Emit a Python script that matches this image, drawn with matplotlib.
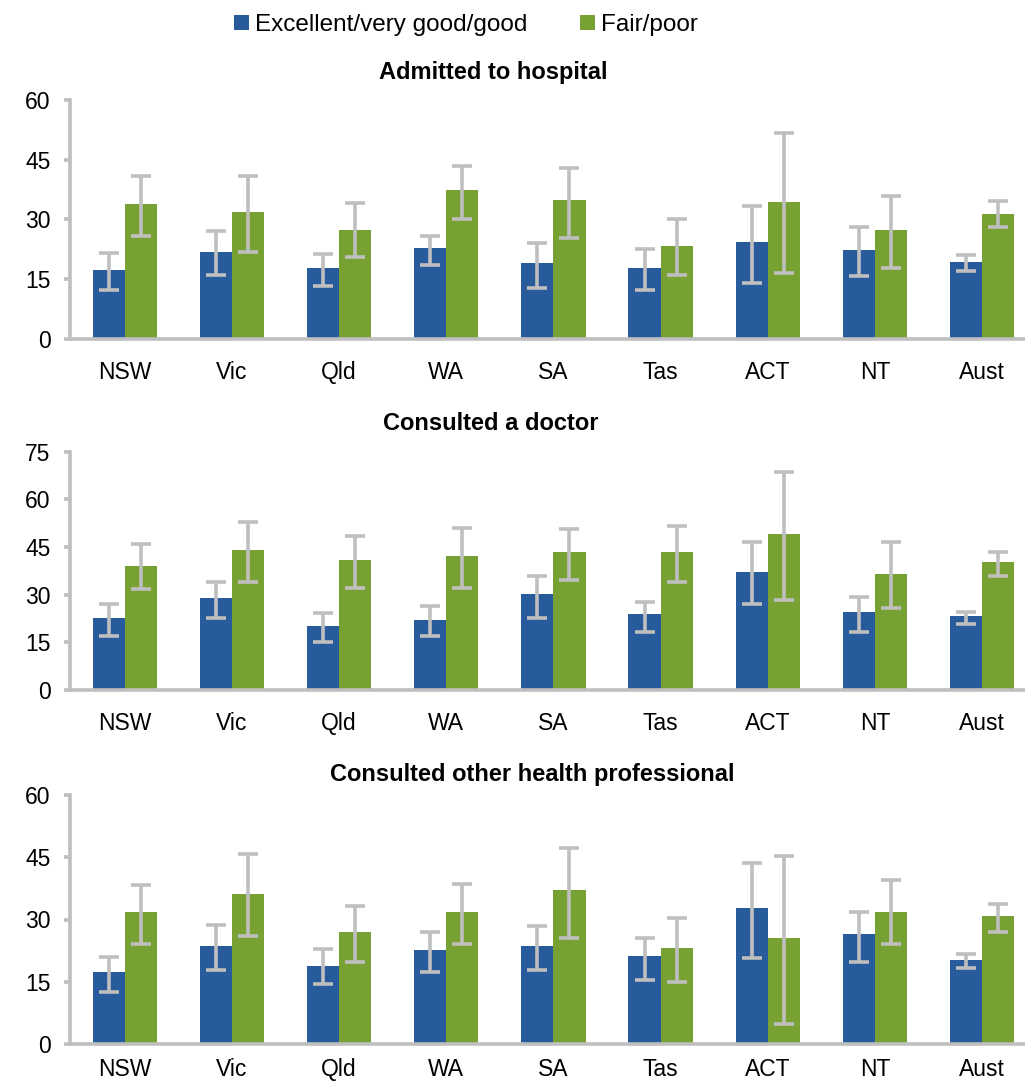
#!/usr/bin/env python3
import numpy as np
import matplotlib
matplotlib.use("Agg")
import matplotlib.pyplot as plt

states = ["NSW", "Vic", "Qld", "WA", "SA", "Tas", "ACT", "NT", "Aust"]
series_names = ["Excellent/very good/good", "Fair/poor"]

# Admitted to hospital
hosp_good = [17.2, 21.7, 17.8, 22.8, 18.9, 17.8, 24.3, 22.2, 19.2]
hosp_good_lo = [12.3, 15.9, 13.3, 18.4, 12.8, 12.3, 13.9, 15.8, 16.9]
hosp_good_hi = [21.4, 27.0, 21.2, 25.9, 23.9, 22.4, 33.4, 28.1, 21.0]
hosp_poor = [33.8, 31.8, 27.3, 37.4, 34.9, 23.3, 34.3, 27.2, 31.2]
hosp_poor_lo = [25.9, 21.7, 20.4, 30.0, 25.4, 15.9, 16.4, 17.8, 28.0]
hosp_poor_hi = [41.0, 41.0, 34.0, 43.5, 43.0, 30.0, 51.6, 35.9, 34.5]

# Consulted a doctor
doc_good = [22.6, 28.8, 20.0, 22.0, 30.2, 23.9, 37.1, 24.5, 23.3]
doc_good_lo = [17.1, 22.8, 15.2, 17.1, 22.8, 18.4, 27.2, 18.4, 20.9]
doc_good_hi = [27.2, 34.1, 24.1, 26.5, 36.0, 27.7, 46.7, 29.2, 24.7]
doc_poor = [38.9, 44.0, 40.9, 42.1, 43.3, 43.3, 49.0, 36.4, 40.2]
doc_poor_lo = [31.7, 34.0, 32.2, 32.2, 34.7, 34.1, 28.3, 25.9, 36.0]
doc_poor_hi = [46.1, 53.0, 48.6, 51.1, 50.6, 51.7, 68.7, 46.7, 43.5]

# Consulted other health professional
other_good = [17.3, 23.6, 18.7, 22.6, 23.6, 21.2, 32.7, 26.5, 20.2]
other_good_lo = [12.6, 17.8, 14.5, 17.4, 17.8, 15.4, 20.8, 19.8, 18.4]
other_good_hi = [20.9, 28.6, 22.8, 27.0, 28.5, 25.6, 43.5, 31.9, 21.8]
other_poor = [31.7, 36.1, 26.9, 31.7, 37.0, 23.1, 25.5, 31.9, 30.8]
other_poor_lo = [24.2, 26.0, 19.8, 24.2, 25.6, 15.0, 4.9, 24.1, 27.1]
other_poor_hi = [38.2, 45.9, 33.3, 38.6, 47.2, 30.4, 45.4, 39.5, 33.8]

panels = [
    ("Admitted to hospital", 60,
     (hosp_good, hosp_good_lo, hosp_good_hi),
     (hosp_poor, hosp_poor_lo, hosp_poor_hi)),
    ("Consulted a doctor", 75,
     (doc_good, doc_good_lo, doc_good_hi),
     (doc_poor, doc_poor_lo, doc_poor_hi)),
    ("Consulted other health professional", 60,
     (other_good, other_good_lo, other_good_hi),
     (other_poor, other_poor_lo, other_poor_hi)),
]

BLUE = "#285B9B"
GREEN = "#78A133"
GREY = "#BFBFBF"

plt.rcParams["font.family"] = ["Liberation Sans", "DejaVu Sans"]

W, H = 1025, 1084
fig = plt.figure(figsize=(W / 100, H / 100), dpi=100)

# pixel boxes: (top, bottom) of each axes, title centre (x, y), x label pad
boxes = [(100, 338.5), (451.7, 690), (795, 1044)]
title_pos = [(493, 73), (491, 424), (532, 775)]
xpads = [16, 16, 10]
left, right = 70, 1025

x = np.arange(len(states))
bw = 0.3

for (title, ymax, good, poor), (top, bot), (tx, ty), xpad in zip(panels, boxes, title_pos, xpads):
    ax = fig.add_axes([left / W, 1 - bot / H, (right - left) / W, (bot - top) / H])
    for off, (vals, lo, hi), col, name in [(-bw / 2, good, BLUE, series_names[0]),
                                           (bw / 2, poor, GREEN, series_names[1])]:
        vals = np.array(vals)
        err = [vals - np.array(lo), np.array(hi) - vals]
        ax.bar(x + off, vals, bw, color=col, label=name, zorder=2)
        ax.errorbar(x + off, vals, yerr=err, fmt="none", ecolor=GREY,
                    elinewidth=2.6, capsize=7, capthick=2.6, zorder=3)

    ax.set_xlim(-0.51, 8.40)
    ax.set_ylim(0, ymax)
    ax.set_yticks(np.arange(0, ymax + 1, 15))
    ax.set_xticks(x)
    ax.set_xticklabels(states)
    for s in ["top", "right"]:
        ax.spines[s].set_visible(False)
    for s in ["left", "bottom"]:
        ax.spines[s].set_color(GREY)
        ax.spines[s].set_linewidth(2.6)
    ax.tick_params(axis="y", length=4, width=2.6, color=GREY, pad=10, labelsize=16.5)
    ax.tick_params(axis="x", length=0, pad=xpad, labelsize=16.5)
    fig.text(tx / W, 1 - ty / H, title, ha="center", va="center",
             fontsize=17, fontweight="bold")

handles, labels = ax.get_legend_handles_labels()
fig.legend(handles, labels, loc="center", bbox_to_anchor=(466 / W, 1 - 25 / H),
           ncol=2, frameon=False, fontsize=17.5, handlelength=0.6, handleheight=0.6,
           handletextpad=0.25, columnspacing=2.2)

fig.savefig("out.png", dpi=100)
